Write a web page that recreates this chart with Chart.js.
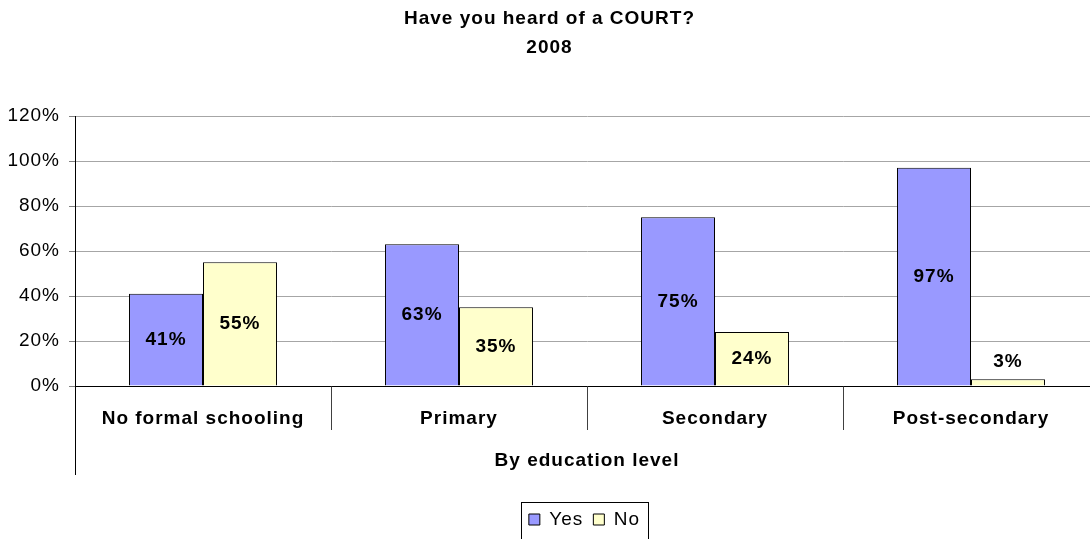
<!DOCTYPE html>
<html>
<head>
<meta charset="utf-8">
<script src="https://cdn.jsdelivr.net/npm/chart.js@4.4.0/dist/chart.umd.min.js"></script>
<style>
  html, body { margin: 0; padding: 0; background: #fff; overflow: hidden; }
  #chart { display: block; }
</style>
</head>
<body>
<canvas id="chart" width="1100" height="539"></canvas>
<script>
// --- DATA ---
const categories = ['No formal schooling', 'Primary', 'Secondary', 'Post-secondary'];
const yesValues = [41, 63, 75, 97];
const noValues = [55, 35, 24, 3];
const yTicks = [0, 20, 40, 60, 80, 100, 120];

const FONT = "'Liberation Sans', Arial, sans-serif";
Chart.defaults.font.family = FONT;
Chart.defaults.color = '#000';

// Excel text is wider than Arial, so spread the letters a bit
const SPACING = '1px';
const spacing = {
    id: 'spacing',
    beforeInit(chart) { chart.ctx.letterSpacing = SPACING; },
    beforeUpdate(chart) { chart.ctx.letterSpacing = SPACING; },
    beforeDraw(chart) { chart.ctx.letterSpacing = SPACING; }
};

// move the legend under the plot centre
const legendShift = {
    id: 'legendShift',
    afterLayout(chart) {
        chart.legend.left += 35;
        chart.legend.right += 35;
    }
};

// value labels inside bars (or above short ones)
const barLabels = {
    id: 'barLabels',
    afterDatasetsDraw(chart) {
        const ctx = chart.ctx;
        ctx.save();
        ctx.font = 'bold 19px ' + FONT;
        ctx.fillStyle = '#000';
        ctx.textAlign = 'center';
        ctx.textBaseline = 'middle';
        chart.data.datasets.forEach((ds, di) => {
            chart.getDatasetMeta(di).data.forEach((bar, i) => {
                const h = bar.base - bar.y;
                const y = h > 30 ? (bar.y + bar.base) / 2 : bar.y - 17;
                ctx.fillText(ds.data[i] + '%', bar.x, y);
            });
        });
        ctx.restore();
    }
};

// y axis line running down past the category labels + legend frame
const extras = {
    id: 'extras',
    afterDraw(chart) {
        const ctx = chart.ctx;
        const a = chart.chartArea;
        const x = Math.round(a.left) + 0.5;
        ctx.save();
        ctx.strokeStyle = '#000';
        ctx.lineWidth = 1;
        ctx.beginPath();
        ctx.moveTo(x, a.bottom);
        ctx.lineTo(x, a.bottom + 89);
        ctx.stroke();

        const boxes = chart.legend.legendHitBoxes;
        if (boxes && boxes.length) {
            const l = Math.min(...boxes.map(b => b.left)) - 8;
            const r = Math.max(...boxes.map(b => b.left + b.width)) + 8;
            const cy = boxes[0].top + boxes[0].height / 2;
            ctx.strokeRect(Math.round(l) + 0.5, Math.round(cy - 18) + 0.5, Math.round(r - l), 40);
        }
        ctx.restore();
    }
};

new Chart(document.getElementById('chart'), {
    type: 'bar',
    data: {
        labels: categories,
        datasets: [
            { label: 'Yes', data: yesValues, backgroundColor: '#9999FF', borderColor: '#000', borderWidth: 1 },
            { label: 'No', data: noValues, backgroundColor: '#FFFFCC', borderColor: '#000', borderWidth: 1 }
        ]
    },
    options: {
        responsive: false,
        animation: false,
        layout: { padding: { left: 0, right: 1, top: 0, bottom: 0 } },
        datasets: { bar: { categoryPercentage: 0.578, barPercentage: 1 } },
        plugins: {
            title: {
                display: true,
                text: ['Have you heard of a COURT?', '2008'],
                font: { size: 19, weight: 'bold', lineHeight: 1.5 },
                color: '#000',
                padding: { top: 5, bottom: 54 }
            },
            legend: {
                position: 'bottom',
                labels: { boxWidth: 11, boxHeight: 11, padding: 10, font: { size: 19 }, color: '#000' }
            },
            tooltip: { enabled: false }
        },
        scales: {
            x: {
                grid: { display: true, offset: true, drawOnChartArea: false, tickLength: 44, color: '#404040' },
                border: { color: '#000' },
                ticks: { font: { size: 19, weight: 'bold' }, color: '#000', padding: -23, maxRotation: 0, autoSkip: false },
                title: {
                    display: true, text: 'By education level',
                    font: { size: 19, weight: 'bold' }, color: '#000',
                    padding: { top: 0, bottom: 28 }
                },
                afterFit(s) { s.height = 114; }
            },
            y: {
                min: 0, max: 120,
                afterBuildTicks(s) { s.ticks = yTicks.map(v => ({ value: v })); },
                ticks: { callback: v => v + '%', font: { size: 19 }, color: '#000', padding: 9 },
                grid: { color: '#a6a6a6', tickLength: 6, tickColor: '#808080' },
                border: { color: '#000' },
                afterFit(s) { s.width = 75; }
            }
        }
    },
    plugins: [spacing, legendShift, barLabels, extras]
});
</script>
</body>
</html>
